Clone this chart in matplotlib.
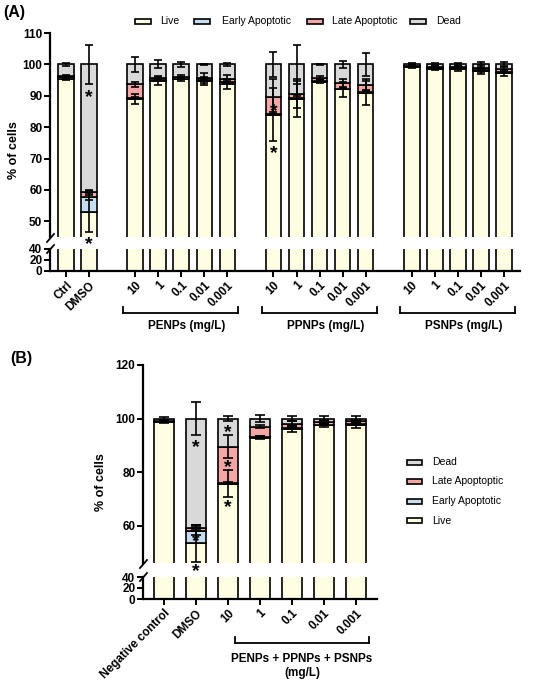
import matplotlib
matplotlib.use("Agg")
import matplotlib.pyplot as plt
from matplotlib.patches import Rectangle
from matplotlib.lines import Line2D
import numpy as np

plt.rcParams['font.family'] = ['Liberation Sans', 'DejaVu Sans']

# ---------------- data ----------------
series_names = ["Live", "Early Apoptotic", "Late Apoptotic", "Dead"]
colors = ["#FFFDE2", "#C6DDF2", "#F3A6A6", "#D9D9D9"]

a_labels = ["Ctrl", "DMSO",
            "10", "1", "0.1", "0.01", "0.001",
            "10", "1", "0.1", "0.01", "0.001",
            "10", "1", "0.1", "0.01", "0.001"]
a_groups = ["PENPs (mg/L)", "PPNPs (mg/L)", "PSNPs (mg/L)"]
a_live = [95.5, 53.0, 89.0, 94.8, 95.3, 94.8, 93.8, 84.0, 88.9, 94.5, 92.0, 90.8, 99.1, 98.5, 98.5, 97.8, 97.2]
a_early = [0.5, 4.9, 0.3, 0.3, 0.2, 0.3, 0.5, 0.3, 0.5, 0.2, 0.3, 0.5, 0.2, 0.2, 0.2, 0.3, 0.3]
a_late = [0.3, 1.3, 4.3, 0.5, 0.5, 0.6, 1.0, 5.4, 1.3, 0.9, 1.8, 2.2, 0.2, 0.5, 0.5, 0.8, 1.0]
a_live_err = [0.5, 6.5, 1.5, 1.3, 0.7, 1.3, 1.5, 8.5, 5.8, 0.5, 2.5, 3.9, 0.3, 0.4, 0.5, 0.8, 1.0]
a_early_err = [0.3, 1.0, 0.3, 0.3, 0.2, 0.3, 0.3, 0.5, 0.5, 0.2, 0.3, 0.4, 0.2, 0.2, 0.3, 0.4, 0.4]
a_late_err = [0.3, 0.8, 0.8, 0.6, 0.5, 1.5, 1.2, 5.5, 4.5, 0.7, 1.2, 1.9, 0.3, 0.5, 0.6, 0.8, 1.0]
a_dead_err = [0.6, 6.2, 2.3, 1.3, 0.7, 0.2, 0.5, 4.1, 6.1, 0.2, 1.1, 3.7, 0.3, 0.5, 0.6, 0.9, 0.8]
# asterisks (bar index, value)
a_stars = [(1, 91.0), (1, 44.0), (7, 86.5), (7, 73.0)]

b_labels = ["Negative control", "DMSO", "10", "1", "0.1", "0.01", "0.001"]
b_group = "PENPs + PPNPs + PSNPs\n(mg/L)"
b_live = [98.8, 53.3, 75.7, 92.9, 96.1, 97.5, 97.6]
b_early = [0.1, 4.8, 0.2, 0.2, 0.2, 0.2, 0.2]
b_late = [0.3, 1.1, 13.6, 3.8, 1.7, 1.0, 1.2]
b_live_err = [0.5, 6.8, 4.9, 0.4, 1.0, 0.6, 1.0]
b_early_err = [0.2, 1.5, 0.3, 0.2, 0.2, 0.2, 0.2]
b_late_err = [0.3, 1.0, 4.3, 0.6, 0.9, 0.7, 0.6]
b_dead_err = [0.5, 6.3, 0.8, 1.2, 0.9, 0.8, 0.8]
b_stars = [(1, 91.0), (1, 55.8), (1, 44.6), (2, 96.4), (2, 83.4), (2, 68.5)]

# ---------------- layout helpers ----------------
W, H = 545, 684
fig = plt.figure(figsize=(W / 100, H / 100), dpi=100)


def rect(l, t, r, b):
    return [l / W, 1 - b / H, (r - l) / W, (b - t) / H]


def fx(x):
    return x / W


def fy(y):
    return 1 - y / H


def fline(x0, y0, x1, y1, lw=1.3):
    fig.add_artist(Line2D([fx(x0), fx(x1)], [fy(y0), fy(y1)], color='black', lw=lw,
                          transform=fig.transFigure))


def style_axis(ax, show_bottom):
    for s in ['top', 'right']:
        ax.spines[s].set_visible(False)
    ax.spines['left'].set_linewidth(1.6)
    ax.spines['bottom'].set_linewidth(1.6)
    ax.spines['bottom'].set_visible(show_bottom)
    ax.tick_params(axis='y', direction='out', length=4, width=1.4, labelsize=8.5, pad=1.5)
    ax.tick_params(axis='x', direction='out', length=4, width=1.4, labelsize=8.5, pad=2)
    if not show_bottom:
        ax.tick_params(axis='x', bottom=False, labelbottom=False)
    for lab in ax.get_yticklabels():
        lab.set_fontweight('bold')
    ax.patch.set_alpha(0)


def draw_stacks(ax_up, ax_lo, xs, segs, errs, width, capsize):
    for ax in (ax_up, ax_lo):
        bottom = np.zeros(len(xs))
        for seg, col in zip(segs, colors):
            seg = np.asarray(seg, dtype=float)
            ax.bar(xs, seg, width, bottom=bottom, color=col, edgecolor='black',
                   linewidth=1.2, zorder=2)
            bottom = bottom + seg
    bottom = np.zeros(len(xs))
    for seg, err in zip(segs, errs):
        top = bottom + np.asarray(seg, dtype=float)
        ax_up.errorbar(xs, top, yerr=err, fmt='none', ecolor='black', elinewidth=1.2,
                       capsize=capsize, capthick=1.2, zorder=3, clip_on=False)
        bottom = top


def star(ax, x, y):
    ax.annotate('*', (x, y), xytext=(0, -6.5), textcoords='offset points',
                ha='center', va='baseline', fontsize=14, fontweight='bold',
                annotation_clip=False, zorder=5)


# ---------------- panel A ----------------
a_pos = [0, 1, 3, 4, 5, 6, 7, 9, 10, 11, 12, 13, 15, 16, 17, 18, 19]
a_dead = [100 - l - e - t for l, e, t in zip(a_live, a_early, a_late)]

axA_up = fig.add_axes(rect(50, 33, 520, 237))
axA_lo = fig.add_axes(rect(50, 249, 520, 271))
draw_stacks(axA_up, axA_lo, a_pos, [a_live, a_early, a_late, a_dead],
            [a_live_err, a_early_err, a_late_err, a_dead_err], 0.68, 2.9)
for ax in (axA_up, axA_lo):
    ax.set_xlim(-0.7, 19.7)
axA_up.set_ylim(45, 110)
axA_up.set_yticks([50, 60, 70, 80, 90, 100, 110])
axA_lo.set_ylim(0, 40)
axA_lo.set_yticks([0, 20, 40])
axA_lo.set_xticks(a_pos)
axA_lo.set_xticklabels(a_labels, rotation=45, ha='right', rotation_mode='anchor',
                       fontweight='bold')
style_axis(axA_up, False)
style_axis(axA_lo, True)
for i, v in a_stars:
    star(axA_up, a_pos[i], v)

fig.text(fx(14), fy(150), "% of cells", rotation=90, ha='center', va='center',
         fontsize=9, fontweight='bold')
fig.text(fx(3), fy(12), "(A)", ha='left', va='center', fontsize=11.5, fontweight='bold')

# break marks A
fline(47, 242, 54, 234)
fline(47, 253, 54, 245)

# brackets A
for (l, r), g in zip([(123, 238), (262, 377), (400, 515)], a_groups):
    fline(l, 307, l, 313)
    fline(r, 307, r, 313)
    fline(l, 313, r, 313)
    fig.text(fx((l + r) / 2 + 6), fy(326), g, ha='center', va='center',
             fontsize=8.5, fontweight='bold')

# legend A
for (pl, tl), name, col in zip([(135, 160), (194, 222), (307, 332), (410, 436)],
                               series_names, colors):
    fig.add_artist(Rectangle((fx(pl), fy(24)), 16 / W, 5 / H, facecolor=col,
                             edgecolor='black', lw=1.2, transform=fig.transFigure))
    fig.text(fx(tl), fy(21.5), name, ha='left', va='center', fontsize=7.5)

# ---------------- panel B ----------------
b_pos = list(range(len(b_labels)))
b_dead = [100 - l - e - t for l, e, t in zip(b_live, b_early, b_late)]

axB_up = fig.add_axes(rect(143, 365, 377, 563))
axB_lo = fig.add_axes(rect(143, 577, 377, 599))
draw_stacks(axB_up, axB_lo, b_pos, [b_live, b_early, b_late, b_dead],
            [b_live_err, b_early_err, b_late_err, b_dead_err], 0.63, 3.6)
for ax in (axB_up, axB_lo):
    ax.set_xlim(-0.66, 6.66)
axB_up.set_ylim(46, 120)
axB_up.set_yticks([60, 80, 100, 120])
axB_lo.set_ylim(0, 40)
axB_lo.set_yticks([0, 20, 40])
axB_lo.set_xticks(b_pos)
axB_lo.set_xticklabels(b_labels, rotation=45, ha='right', rotation_mode='anchor',
                       fontweight='bold')
style_axis(axB_up, False)
style_axis(axB_lo, True)
for i, v in b_stars:
    star(axB_up, b_pos[i], v)

fig.text(fx(101), fy(482), "% of cells", rotation=90, ha='center', va='center',
         fontsize=9, fontweight='bold')
fig.text(fx(10), fy(358), "(B)", ha='left', va='center', fontsize=11.5, fontweight='bold')

fline(140, 568, 147, 560)
fline(140, 581, 147, 573)

fline(235, 637, 235, 643)
fline(369, 637, 369, 643)
fline(235, 643, 369, 643)
fig.text(fx(302), fy(666), b_group, ha='center', va='center', fontsize=8.5,
         fontweight='bold', linespacing=1.3)

# legend B (reverse order)
for k, (name, col) in enumerate(zip(series_names[::-1], colors[::-1])):
    yc = 462 + k * 19.5
    fig.add_artist(Rectangle((fx(407), fy(yc + 2.5)), 15 / W, 5 / H, facecolor=col,
                             edgecolor='black', lw=1.2, transform=fig.transFigure))
    label = "Late Apoptoptic" if name == "Late Apoptotic" else name
    fig.text(fx(432), fy(yc), label, ha='left', va='center', fontsize=7.5)

fig.savefig("out.png", dpi=100)
